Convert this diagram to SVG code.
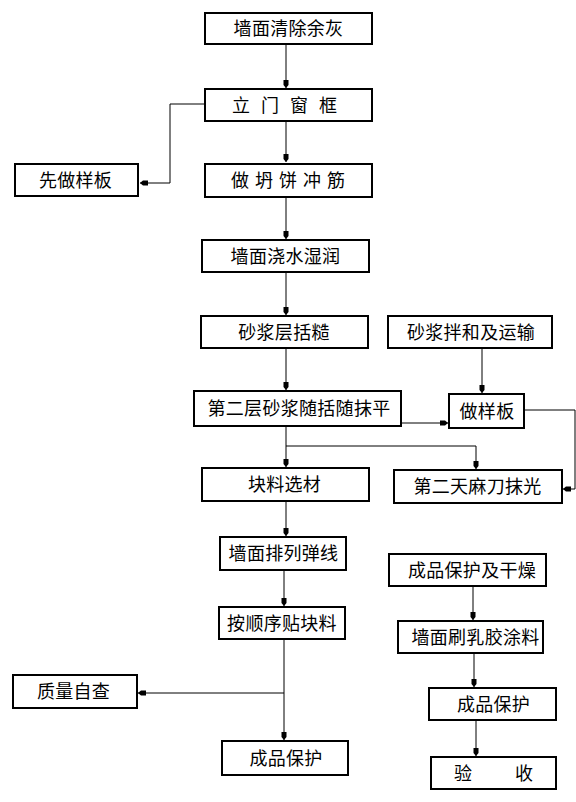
<svg xmlns="http://www.w3.org/2000/svg" width="576" height="802" viewBox="0 0 576 802">
<style>
.box{fill:#fff;stroke:#000;stroke-width:2}
.t{font-family:"Noto Sans CJK SC","Noto Sans CJK JP",sans-serif;font-size:18px;fill:#000;text-anchor:middle;letter-spacing:0.3px}
.ts{font-family:"Noto Sans CJK SC","Noto Sans CJK JP",sans-serif;font-size:18px;fill:#000}
.c{fill:none;stroke:#000;stroke-width:1}
</style>
<defs>
<marker id="ah" viewBox="0 -3 8 6" markerWidth="8" markerHeight="6" refX="8" refY="0" orient="auto" markerUnits="userSpaceOnUse">
<path d="M0,-2.5 L5,-2.5 L8,0 L5,2.5 L0,2.5 z" fill="#000"/>
</marker>
</defs>
<rect width="576" height="802" fill="#fff"/>
<g id="connectors">
<path class="c" d="M286,45 V88" marker-end="url(#ah)"/>
<path class="c" d="M286,122 V162" marker-end="url(#ah)"/>
<path class="c" d="M204,104 H170 V183 H140" marker-end="url(#ah)"/>
<path class="c" d="M286,198 V239" marker-end="url(#ah)"/>
<path class="c" d="M286,273 V315" marker-end="url(#ah)"/>
<path class="c" d="M286,349 V390" marker-end="url(#ah)"/>
<path class="c" d="M482,349 V393" marker-end="url(#ah)"/>
<path class="c" d="M402,423 H448" marker-end="url(#ah)"/>
<path class="c" d="M525,410 H575 V489 H563" marker-end="url(#ah)"/>
<path class="c" d="M286,427 V467" marker-end="url(#ah)"/>
<path class="c" d="M286,446 H476 V469" marker-end="url(#ah)"/>
<path class="c" d="M286,502 V536" marker-end="url(#ah)"/>
<path class="c" d="M284,571 V606" marker-end="url(#ah)"/>
<path class="c" d="M284,640 V740" marker-end="url(#ah)"/>
<path class="c" d="M284,693 H138" marker-end="url(#ah)"/>
<path class="c" d="M473,587 V620" marker-end="url(#ah)"/>
<path class="c" d="M474,654 V687" marker-end="url(#ah)"/>
<path class="c" d="M476,721 V756" marker-end="url(#ah)"/>
</g>
<g id="n1"><rect class="box" x="205" y="13" width="167" height="31"/><text class="t" x="288.5" y="35">墙面清除余灰</text></g>
<g id="n2"><rect class="box" x="205" y="89" width="167" height="32"/><text class="ts" x="232" y="111.5" letter-spacing="11">立门窗框</text></g>
<g id="n3"><rect class="box" x="15" y="164" width="123" height="32"/><text class="t" x="75.5" y="186.5">先做样板</text></g>
<g id="n4"><rect class="box" x="205" y="164" width="167" height="33"/><text class="ts" x="231" y="187" letter-spacing="6">做坍饼冲筋</text></g>
<g id="n5"><rect class="box" x="202" y="240" width="167" height="32"/><text class="t" x="285.5" y="262.5">墙面浇水湿润</text></g>
<g id="n6"><rect class="box" x="201" y="316" width="167" height="32"/><text class="t" x="284" y="338.5">砂浆层括糙</text></g>
<g id="n7"><rect class="box" x="388" y="316" width="164" height="32"/><text class="t" x="471" y="338.5">砂浆拌和及运输</text></g>
<g id="n8"><rect class="box" x="194" y="391" width="207" height="35"/><text class="t" x="299" y="415">第二层砂浆随括随抹平</text></g>
<g id="n9"><rect class="box" x="449" y="394" width="75" height="34"/><text class="t" x="487" y="417.5">做样板</text></g>
<g id="n10"><rect class="box" x="202" y="468" width="167" height="33"/><text class="t" x="284.5" y="491">块料选材</text></g>
<g id="n11"><rect class="box" x="394" y="470" width="168" height="33"/><text class="t" x="477.5" y="493">第二天麻刀抹光</text></g>
<g id="n12"><rect class="box" x="220" y="537" width="126" height="33"/><text class="t" x="283.5" y="560">墙面排列弹线</text></g>
<g id="n13"><rect class="box" x="219" y="607" width="126" height="32"/><text class="t" x="282" y="629.5">按顺序贴块料</text></g>
<g id="n14"><rect class="box" x="13" y="675" width="124" height="33"/><text class="t" x="73.5" y="698">质量自查</text></g>
<g id="n15"><rect class="box" x="222" y="741" width="126" height="34"/><text class="t" x="286" y="764.5">成品保护</text></g>
<g id="n16"><rect class="box" x="389" y="554" width="157" height="32"/><text class="t" x="472" y="576.5">成品保护及干燥</text></g>
<g id="n17"><rect class="box" x="398" y="621" width="145" height="32"/><text class="t" x="475.5" y="643.5">墙面刷乳胶涂料</text></g>
<g id="n18"><rect class="box" x="429" y="688" width="127" height="32"/><text class="t" x="493.5" y="710.5">成品保护</text></g>
<g id="n19"><rect class="box" x="431" y="757" width="125" height="32"/><text class="ts" x="454" y="779.5" letter-spacing="43">验收</text></g>
</svg>
